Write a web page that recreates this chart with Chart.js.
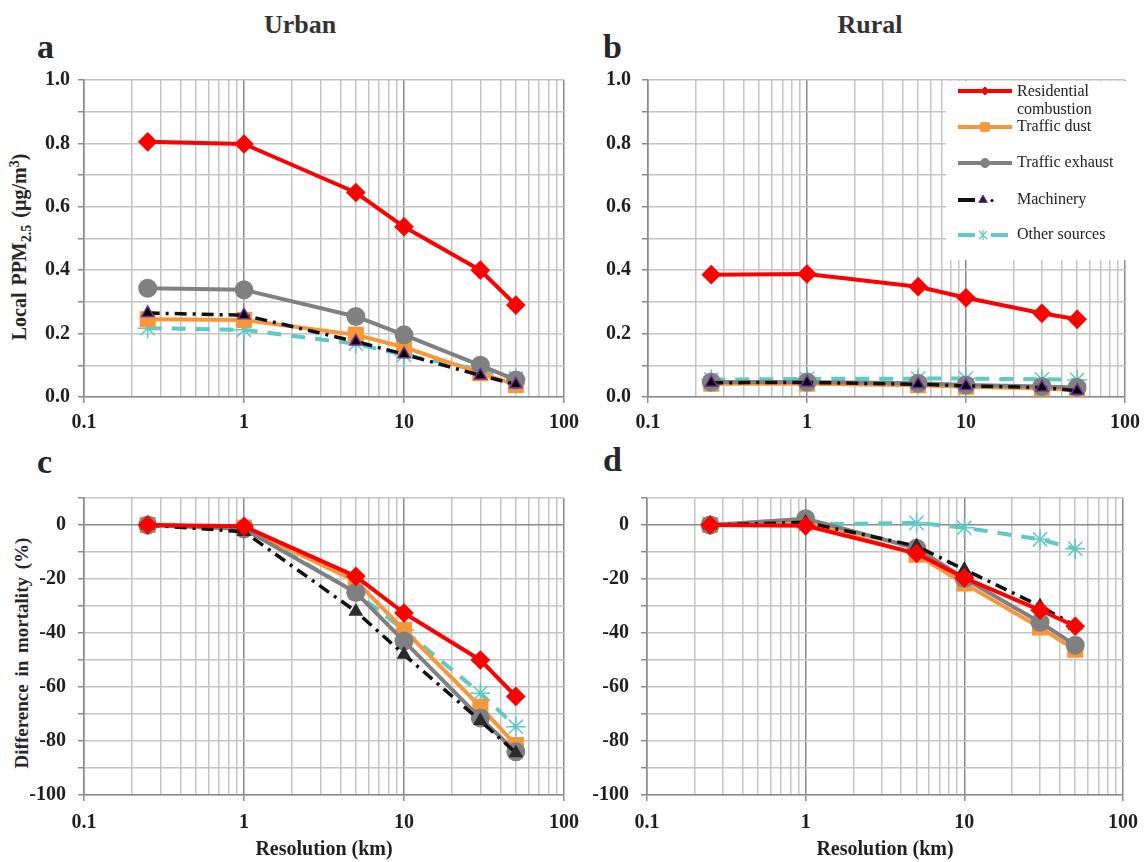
<!DOCTYPE html>
<html>
<head>
<meta charset="utf-8">
<script src="https://cdn.jsdelivr.net/npm/chart.js@4.4.1/dist/chart.umd.min.js"></script>
<style>
  body { margin: 0; background: #fff; width: 1148px; height: 862px; position: relative; overflow: hidden;
         font-family: 'Liberation Serif', 'Times New Roman', serif; color: #262626; }
  canvas { position: absolute; }
  .t { position: absolute; font-weight: bold; white-space: nowrap; line-height: 1; }
  .mid { transform: translate(-50%, -50%); }
  .rot { transform: translate(-50%, -50%) rotate(-90deg); }
</style>
</head>
<body>
<div class="t mid" style="left:300px;top:25px;font-size:26px;color:#333">Urban</div>
<div class="t mid" style="left:870px;top:25px;font-size:26px;color:#333">Rural</div>
<div class="t" style="left:37px;top:30px;font-size:34px">a</div>
<div class="t" style="left:603px;top:30px;font-size:34px">b</div>
<div class="t" style="left:37px;top:445px;font-size:34px">c</div>
<div class="t" style="left:603px;top:443px;font-size:34px">d</div>
<div class="t rot" style="left:21px;top:247px;font-size:20px;word-spacing:2px">Local PPM<sub style="font-size:14px">2.5</sub> (&micro;g/m<sup style="font-size:14px">3</sup>)</div>
<div class="t rot" style="left:21px;top:653px;font-size:19px;word-spacing:3px">Difference in mortality (%)</div>

<canvas id="ca" width="600" height="431" style="left:0;top:0"></canvas>
<canvas id="cb" width="588" height="431" style="left:560px;top:0"></canvas>
<canvas id="cc" width="600" height="432" style="left:0;top:430px"></canvas>
<canvas id="cd" width="588" height="432" style="left:560px;top:430px"></canvas>

<script>
// resolution of the runs (km) and axis labels
const resolution = [0.25, 1, 5, 10, 30, 50];
const xLabels = ['0.1', '1', '10', '100'];
const yLabelsConc = ['0.0', '0.2', '0.4', '0.6', '0.8', '1.0'];
const yLabelsMort = ['-100', '-80', '-60', '-40', '-20', '0'];

// a - urban local PPM2.5 (ug/m3)
const urbanResidential = [0.805, 0.798, 0.645, 0.537, 0.40, 0.29];
const urbanDust        = [0.245, 0.243, 0.196, 0.157, 0.075, 0.038];
const urbanExhaust     = [0.343, 0.338, 0.254, 0.196, 0.10, 0.054];
const urbanMachinery   = [0.265, 0.258, 0.175, 0.135, 0.068, 0.04];
const urbanOther       = [0.217, 0.212, 0.168, 0.133, 0.085, 0.059];

// b - rural local PPM2.5 (ug/m3)
const ruralResidential = [0.386, 0.388, 0.348, 0.313, 0.264, 0.245];
const ruralDust        = [0.042, 0.042, 0.037, 0.032, 0.027, 0.022];
const ruralExhaust     = [0.047, 0.047, 0.043, 0.038, 0.033, 0.03];
const ruralMachinery   = [0.045, 0.046, 0.04, 0.035, 0.03, 0.02];
const ruralOther       = [0.055, 0.057, 0.058, 0.058, 0.056, 0.054];

// c - urban difference in mortality (%)
const urbanMortResidential = [0, -0.5, -19, -32.6, -50, -63.5];
const urbanMortDust        = [0, -1, -20.8, -38.8, -67.3, -81.5];
const urbanMortExhaust     = [0, -1.5, -25, -43, -71.5, -84];
const urbanMortMachinery   = [0, -2.5, -32, -48, -72.5, -84.4];
const urbanMortOther       = [0, -0.8, -25, -39, -62.3, -74.7];

// d - rural difference in mortality (%)
const ruralMortResidential = [0, -0.3, -10.5, -19.6, -31.5, -37.5];
const ruralMortDust        = [0, 1.2, -11, -21.7, -38, -46.2];
const ruralMortExhaust     = [0, 2.3, -8.6, -19.8, -36, -44.5];
const ruralMortMachinery   = [0, 1, -7.8, -16.5, -30, -37.3];
const ruralMortOther       = [0, 0.2, 0.8, -1, -5.3, -8.8];

// gridline positions of the log axis: 1..9 in each decade
const xGrid = [];
for (let e = -1; e < 2; e++) for (let m = 1; m < 10; m++) xGrid.push(+(m * Math.pow(10, e)).toFixed(2));
xGrid.push(100);

const RED = '#ff0000', ORANGE = '#f7963a', GREY = '#808080', TEAL = '#5fc8c8';

function styles(bottom) {
  return [
    { label: 'Residential combustion', borderColor: RED, backgroundColor: RED, borderWidth: 4,
      pointStyle: 'rectRot', pointRadius: 7, pointBackgroundColor: RED, pointBorderColor: RED, order: 1 },
    { label: 'Machinery', borderColor: '#111', borderWidth: 3.5, borderDash: [12, 6, 3, 6],
      pointStyle: 'triangle', pointRadius: 7,
      pointBackgroundColor: bottom ? '#2b2b2b' : '#000', pointBorderColor: bottom ? '#2b2b2b' : '#7030a0',
      pointBorderWidth: 1.5, order: 2 },
    { label: 'Traffic exhaust', borderColor: GREY, borderWidth: 4,
      pointStyle: 'circle', pointRadius: 7.5, pointBackgroundColor: GREY, pointBorderColor: GREY, order: 3 },
    { label: 'Traffic dust', borderColor: ORANGE, borderWidth: 4,
      pointStyle: 'rect', pointRadius: 8.5, pointBackgroundColor: ORANGE, pointBorderColor: ORANGE, order: 4 },
    { label: 'Other sources', borderColor: TEAL, borderWidth: 4, borderDash: [14, 10],
      pointStyle: 'star', pointRadius: 10, pointBorderWidth: 1.5, pointBackgroundColor: TEAL, pointBorderColor: TEAL, order: 5 }
  ];
}

const isDecade = v => Math.abs(Math.log10(v) - Math.round(Math.log10(v))) < 1e-6;

// legend drawn inside panel b
const legendPlugin = {
  id: 'boxLegend',
  afterDraw(chart) {
    const ctx = chart.ctx;
    const H = Chart.helpers;
    ctx.save();
    ctx.fillStyle = '#fff';
    ctx.fillRect(386, 81, 182, 179);
    const x0 = 398, x1 = 452, xm = 425, tx = 457;
    const line = (y, color, w, a, b) => {
      ctx.beginPath(); ctx.strokeStyle = color; ctx.lineWidth = w;
      ctx.moveTo(a, y); ctx.lineTo(b, y); ctx.stroke();
    };
    // residential
    line(91, RED, 4, x0, x1);
    ctx.fillStyle = RED; ctx.strokeStyle = RED; ctx.lineWidth = 1;
    H.drawPoint(ctx, { pointStyle: 'rectRot', radius: 4, borderWidth: 1 }, xm, 91);
    // traffic dust
    line(127, ORANGE, 4, x0, x1);
    ctx.fillStyle = ORANGE; ctx.strokeStyle = ORANGE; ctx.lineWidth = 1;
    H.drawPoint(ctx, { pointStyle: 'rect', radius: 6, borderWidth: 1 }, xm, 127);
    // traffic exhaust
    line(163, GREY, 4, x0, x1);
    ctx.fillStyle = GREY; ctx.strokeStyle = GREY; ctx.lineWidth = 1;
    H.drawPoint(ctx, { pointStyle: 'circle', radius: 4.5, borderWidth: 1 }, xm, 163);
    // machinery
    line(200, '#111', 4, x0, 415);
    ctx.fillStyle = '#2a1a4a'; ctx.strokeStyle = '#7030a0'; ctx.lineWidth = 1;
    H.drawPoint(ctx, { pointStyle: 'triangle', radius: 5, borderWidth: 1 }, 423, 200);
    ctx.fillStyle = '#111'; ctx.beginPath(); ctx.arc(432, 200.5, 1.6, 0, Math.PI * 2); ctx.fill();
    // other sources
    line(235, TEAL, 4, x0, 415);
    line(235, TEAL, 4, 431, 448);
    ctx.strokeStyle = TEAL; ctx.lineWidth = 1.2;
    ctx.beginPath();
    ctx.moveTo(419, 231); ctx.lineTo(427, 239);
    ctx.moveTo(427, 231); ctx.lineTo(419, 239);
    ctx.moveTo(423, 230); ctx.lineTo(423, 240);
    ctx.stroke();

    ctx.fillStyle = '#222';
    ctx.font = '16px "Liberation Serif"';
    ctx.textBaseline = 'middle';
    ctx.fillText('Residential', tx, 92);
    ctx.fillText('combustion', tx, 110);
    ctx.fillText('Traffic dust', tx, 127);
    ctx.fillText('Traffic exhaust', tx, 163);
    ctx.fillText('Machinery', tx, 200);
    ctx.fillText('Other sources', tx, 235);
    ctx.restore();
  }
};

function makePanel(id, values, opt) {
  const st = styles(opt.mortality);
  const datasets = st.map((s, i) => Object.assign({
    data: resolution.map((r, j) => ({ x: r, y: values[i][j] })),
    fill: false, tension: 0, borderJoinStyle: 'round', borderCapStyle: 'butt'
  }, s));
  const tickFont = { family: 'Liberation Serif', size: 20, weight: 'bold' };
  return new Chart(document.getElementById(id), {
    type: 'line',
    data: { datasets },
    plugins: opt.legend ? [legendPlugin] : [],
    options: {
      responsive: false,
      animation: false,
      devicePixelRatio: 1,
      layout: { autoPadding: false, padding: { left: 0, top: opt.top, right: opt.right, bottom: 0 } },
      plugins: { legend: { display: false }, tooltip: { enabled: false } },
      scales: {
        x: {
          type: 'logarithmic', min: 0.1, max: 100,
          afterBuildTicks: s => { s.ticks = xGrid.map(v => ({ value: v })); },
          afterFit: s => { s.height = opt.xHeight; },
          ticks: {
            autoSkip: false, maxRotation: 0, minRotation: 0, color: '#1f1f1f', font: tickFont, padding: opt.xPad,
            callback: v => { const s = String(+v.toFixed(2)); return xLabels.includes(s) ? s : ''; }
          },
          grid: {
            color: c => (c.tick && isDecade(c.tick.value)) ? '#8a8a8a' : '#c4c4c4',
            tickColor: c => (c.tick && isDecade(c.tick.value)) ? '#8a8a8a' : 'rgba(0,0,0,0)',
            lineWidth: 1.5, tickLength: 6
          },
          border: { color: '#8a8a8a', width: 1.5 },
          title: opt.mortality ? {
            display: true, text: 'Resolution (km)', color: '#1f1f1f',
            font: { family: 'Liberation Serif', size: 20, weight: 'bold', lineHeight: 1.2 },
            padding: { top: 0, bottom: 0 }
          } : { display: false }
        },
        y: {
          min: opt.min, max: opt.max,
          afterFit: s => { s.width = opt.yWidth; },
          ticks: {
            stepSize: opt.step, color: '#1f1f1f', font: tickFont, padding: opt.yPad, autoSkip: false,
            callback: v => {
              const s = opt.mortality ? String(Math.round(v)) : v.toFixed(1);
              return opt.labels.includes(s) ? s : '';
            }
          },
          grid: {
            color: c => (opt.mortality && c.tick && Math.round(c.tick.value) === 0) ? '#8a8a8a' : '#c4c4c4',
            tickColor: '#8a8a8a', lineWidth: 1.5, tickLength: 6
          },
          border: { color: '#8a8a8a', width: 1.5 }
        }
      }
    }
  });
}

const conc = { min: 0, max: 1, step: 0.1, labels: yLabelsConc, mortality: false, top: 80, xHeight: 34, xPad: 8 };
const mort = { min: -100, max: 10, step: 10, labels: yLabelsMort, mortality: true, top: 68, xHeight: 67, xPad: 10 };

makePanel('ca', [urbanResidential, urbanMachinery, urbanExhaust, urbanDust, urbanOther],
  Object.assign({}, conc, { yWidth: 84, right: 36, yPad: 8 }));
makePanel('cb', [ruralResidential, ruralMachinery, ruralExhaust, ruralDust, ruralOther],
  Object.assign({}, conc, { yWidth: 88, right: 19, yPad: 11, legend: true }));
makePanel('cc', [urbanMortResidential, urbanMortMachinery, urbanMortExhaust, urbanMortDust, urbanMortOther],
  Object.assign({}, mort, { yWidth: 84, right: 36, yPad: 12 }));
makePanel('cd', [ruralMortResidential, ruralMortMachinery, ruralMortExhaust, ruralMortDust, ruralMortOther],
  Object.assign({}, mort, { yWidth: 87, right: 20, yPad: 12 }));
</script>
</body>
</html>
